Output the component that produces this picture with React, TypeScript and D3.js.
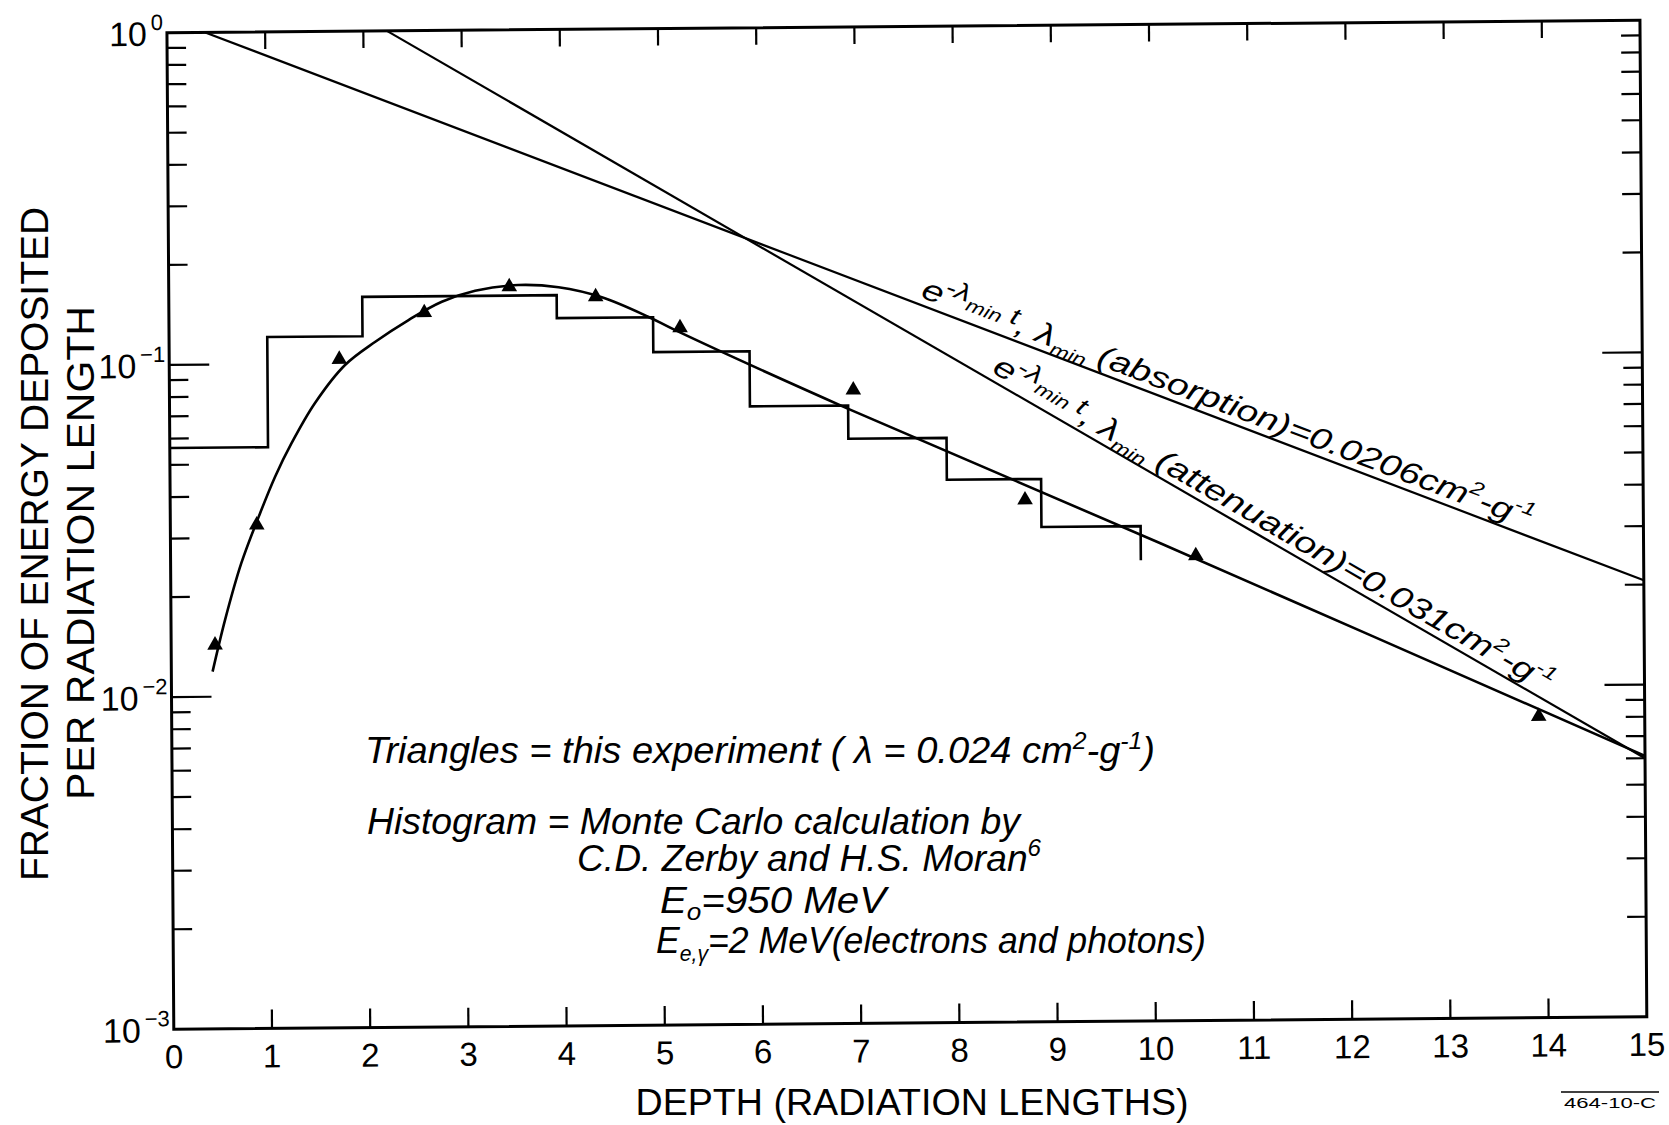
import React from 'react';
import * as d3 from 'd3';

// ---------- data ----------
const xTickValues = [0, 1, 2, 3, 4, 5, 6, 7, 8, 9, 10, 11, 12, 13, 14, 15];
const xTickLabels = ['0', '1', '2', '3', '4', '5', '6', '7', '8', '9', '10', '11', '12', '13', '14', '15'];
const yDecadeValues = [1, 0.1, 0.01, 0.001];
const yDecadeExponents = ['0', '-1', '-2', '-3'];

// Triangles = this experiment
const triangleDepth = [0.447, 0.88, 1.732, 2.601, 3.468, 4.347, 5.204, 6.964, 8.705, 10.44, 13.92];
const triangleFraction = [0.0143, 0.0328, 0.1029, 0.1415, 0.1685, 0.1564, 0.1255, 0.0807, 0.0373, 0.0251, 0.00807];

// smooth curve through the triangles
const fitDepth = [0.42, 0.55, 0.72, 0.9, 1.07, 1.24, 1.48, 1.79, 2.1, 2.44, 2.78, 3.12, 3.56, 3.97, 4.41, 4.88, 5.15, 6.9, 10.08, 15];
const fitFraction = [0.0119, 0.017, 0.0252, 0.0347, 0.0458, 0.0577, 0.076, 0.0989, 0.116, 0.1346, 0.1525, 0.1643, 0.1705, 0.1674, 0.1558, 0.1358, 0.1237, 0.0711, 0.0274, 0.0061];

// Monte Carlo histogram (Zerby & Moran)
const histEdges = [0, 1.0, 1.97, 3.95, 4.93, 5.91, 6.91, 7.91, 8.87, 9.88];
const histValues = [0.0562, 0.1206, 0.1585, 0.1352, 0.1062, 0.0725, 0.0576, 0.0431, 0.0309];
const histTailEnd = 0.0244;

// exponential reference lines
const absorptionDepth = [0.39, 15];
const absorptionFraction = [1.0, 0.0206];
const attenuationDepth = [2.24, 15];
const attenuationFraction = [1.0, 0.006];

const FONT = "'Liberation Sans', Arial, sans-serif";

export default function App() {
  const W = 1473;
  const H = 996.5;
  const xs = d3.scaleLinear().domain([0, 15]).range([0, W]);
  const ys = d3.scaleLog().domain([1e-3, 1]).range([H, 0]);

  const line = d3
    .line<[number, number]>()
    .x((d) => xs(d[0]))
    .y((d) => ys(d[1]));

  const fitPath = d3
    .line<[number, number]>()
    .x((d) => xs(d[0]))
    .y((d) => ys(d[1]))
    .curve(d3.curveCatmullRom.alpha(0.5))(fitDepth.map((d, i) => [d, fitFraction[i]]));

  const histPts: [number, number][] = histValues.map((v, i) => [histEdges[i], v]);
  histPts.push([histEdges[histEdges.length - 1], histTailEnd]);
  const histPath = d3
    .line<[number, number]>()
    .x((d) => xs(d[0]))
    .y((d) => ys(d[1]))
    .curve(d3.curveStepAfter)(histPts);

  const absPath = line(absorptionDepth.map((d, i) => [d, absorptionFraction[i]]));
  const attPath = line(attenuationDepth.map((d, i) => [d, attenuationFraction[i]]));

  const tri = d3.symbol().type(d3.symbolTriangle).size(105)();

  const onLine = (depths: number[], fracs: number[], d: number): [number, number] => {
    const t = (d - depths[0]) / (depths[1] - depths[0]);
    const ly = Math.log10(fracs[0]) + t * (Math.log10(fracs[1]) - Math.log10(fracs[0]));
    return [xs(d), ys(Math.pow(10, ly))];
  };
  const angleOf = (depths: number[], fracs: number[]) =>
    (Math.atan2(ys(fracs[1]) - ys(fracs[0]), xs(depths[1]) - xs(depths[0])) * 180) / Math.PI;

  const absAngle = angleOf(absorptionDepth, absorptionFraction);
  const attAngle = angleOf(attenuationDepth, attenuationFraction);
  const absAnchor = onLine(absorptionDepth, absorptionFraction, 7.62);
  const attAnchor = onLine(attenuationDepth, attenuationFraction, 8.33);

  const yTicks = ys.ticks().filter((v) => v > 1e-3 * 1.0001 && v < 0.9999);
  const isMajor = (v: number) => Math.abs(Math.log10(v) - Math.round(Math.log10(v))) < 1e-6;
  const xInner = xTickValues.filter((v) => v > 0 && v < 15);

  const sw = 2.6;

  return (
    <div style={{ position: 'absolute', left: 0, top: 0, width: 1669, height: 1125, background: '#fff' }}>
      <svg width={1669} height={1125} viewBox="0 0 1669 1125" style={{ display: 'block' }}>
        <rect x={0} y={0} width={1669} height={1125} fill="#fff" />
        <g transform="matrix(1,-0.008486,0.006874,1,166.95,32.75)" fontFamily={FONT} fill="#000">
          {/* frame */}
          <rect x={0} y={0} width={W} height={H} fill="none" stroke="#000" strokeWidth={3} />
          {/* x ticks top and bottom */}
          {xInner.map((v) => (
            <g key={'xt' + v}>
              <line x1={xs(v)} x2={xs(v)} y1={H} y2={H - 19} stroke="#000" strokeWidth={2.2} />
              <line x1={xs(v)} x2={xs(v)} y1={0} y2={17} stroke="#000" strokeWidth={2.2} />
            </g>
          ))}
          {/* y ticks left and right */}
          {yTicks.map((v) => {
            const len = isMajor(v) ? 40 : 19;
            return (
              <g key={'yt' + v}>
                <line x1={0} x2={len} y1={ys(v)} y2={ys(v)} stroke="#000" strokeWidth={2.2} />
                <line x1={W} x2={W - len} y1={ys(v)} y2={ys(v)} stroke="#000" strokeWidth={2.2} />
              </g>
            );
          })}
          {/* x tick labels */}
          {xTickValues.map((v, i) => (
            <text key={'xl' + v} x={xs(v)} y={H + 39} fontSize={33} textAnchor="middle">
              {xTickLabels[i]}
            </text>
          ))}
          {/* y tick labels: "10" plus exponent */}
          {yDecadeValues.map((v, i) => {
            const expW = i === 0 ? 13 : 26;
            return (
              <g key={'yl' + v}>
                <text x={-4 - expW - 3} y={ys(v) + 13} fontSize={34} textAnchor="end">
                  10
                </text>
                <text x={-4} y={ys(v) - 3} fontSize={22} textAnchor="end">
                  {yDecadeExponents[i].replace('-', '\u2212')}
                </text>
              </g>
            );
          })}

          {/* reference exponentials */}
          <path d={absPath || ''} fill="none" stroke="#000" strokeWidth={2.2} />
          <path d={attPath || ''} fill="none" stroke="#000" strokeWidth={2.2} />

          {/* histogram */}
          <path d={histPath || ''} fill="none" stroke="#000" strokeWidth={sw} />

          {/* fitted curve */}
          <path d={fitPath || ''} fill="none" stroke="#000" strokeWidth={sw} />

          {/* triangles */}
          {triangleDepth.map((d, i) => (
            <path key={'tr' + i} d={tri || ''} transform={`translate(${xs(d)},${ys(triangleFraction[i])})`} fill="#000" />
          ))}

          {/* line labels */}
          <g transform={`translate(${absAnchor[0]},${absAnchor[1]}) rotate(${absAngle}) translate(0,-7)`}>
            <text x={0} y={0} fontSize={30} fontStyle="italic" textLength={652} lengthAdjust="spacingAndGlyphs">
              e<tspan dy={-12} fontSize={24}>-λ</tspan>
              <tspan dy={8} fontSize={18}>min</tspan>
              <tspan dy={-4} fontSize={24}> t</tspan>
              <tspan dy={8} fontSize={30}>, λ</tspan>
              <tspan dy={7} fontSize={18}>min</tspan>
              <tspan dy={-7} fontSize={30}> (absorption)=0.0206cm</tspan>
              <tspan dy={-13} fontSize={19}>2</tspan>
              <tspan dy={13} fontSize={30}>-g</tspan>
              <tspan dy={-13} fontSize={19}>-1</tspan>
            </text>
          </g>
          <g transform={`translate(${attAnchor[0]},${attAnchor[1]}) rotate(${attAngle}) translate(0,-7)`}>
            <text x={0} y={0} fontSize={30} fontStyle="italic" textLength={642} lengthAdjust="spacingAndGlyphs">
              e<tspan dy={-12} fontSize={24}>-λ</tspan>
              <tspan dy={8} fontSize={18}>min</tspan>
              <tspan dy={-4} fontSize={24}> t</tspan>
              <tspan dy={8} fontSize={30}>, λ</tspan>
              <tspan dy={7} fontSize={18}>min</tspan>
              <tspan dy={-7} fontSize={30}> (attenuation)=0.031cm</tspan>
              <tspan dy={-13} fontSize={19}>2</tspan>
              <tspan dy={13} fontSize={30}>-g</tspan>
              <tspan dy={-13} fontSize={19}>-1</tspan>
            </text>
          </g>
        </g>

        {/* axis titles */}
        <g fontFamily={FONT} fill="#000">
          <text x={912} y={1115} fontSize={36} textAnchor="middle" textLength={553} lengthAdjust="spacingAndGlyphs">
            DEPTH (RADIATION LENGTHS)
          </text>
          <text transform="translate(48,544) rotate(-90)" x={0} y={0} fontSize={38} textAnchor="middle" textLength={674} lengthAdjust="spacingAndGlyphs">
            FRACTION OF ENERGY DEPOSITED
          </text>
          <text transform="translate(94,553) rotate(-90)" x={0} y={0} fontSize={38} textAnchor="middle" textLength={494} lengthAdjust="spacingAndGlyphs">
            PER RADIATION LENGTH
          </text>

          {/* legend block */}
          <g fontStyle="italic" fontSize={37}>
            <text x={365} y={763} textLength={790} lengthAdjust="spacingAndGlyphs">
              Triangles = this experiment  ( λ = 0.024 cm<tspan dy={-14} fontSize={24}>2</tspan>
              <tspan dy={14}>-g</tspan>
              <tspan dy={-14} fontSize={24}>-1</tspan>
              <tspan dy={14}>)</tspan>
            </text>
            <text x={367} y={834} textLength={653} lengthAdjust="spacingAndGlyphs">
              Histogram = Monte Carlo calculation by
            </text>
            <text x={577} y={871} textLength={464} lengthAdjust="spacingAndGlyphs">
              C.D. Zerby  and  H.S. Moran<tspan dy={-15} fontSize={24}>6</tspan>
            </text>
            <text x={660} y={913} textLength={226} lengthAdjust="spacingAndGlyphs">
              E<tspan dy={7} fontSize={24}>o</tspan>
              <tspan dy={-7}>=950 MeV</tspan>
            </text>
            <text x={656} y={953} textLength={550} lengthAdjust="spacingAndGlyphs">
              E<tspan dy={8} fontSize={22}>e,γ</tspan>
              <tspan dy={-8}>=2 MeV(electrons and photons)</tspan>
            </text>
          </g>

          {/* figure number */}
          <line x1={1561} x2={1659} y1={1092} y2={1092} stroke="#000" strokeWidth={1.5} />
          <text x={1610} y={1108} fontSize={15} textAnchor="middle" textLength={92} lengthAdjust="spacingAndGlyphs">
            464-10-C
          </text>
        </g>
      </svg>
    </div>
  );
}
